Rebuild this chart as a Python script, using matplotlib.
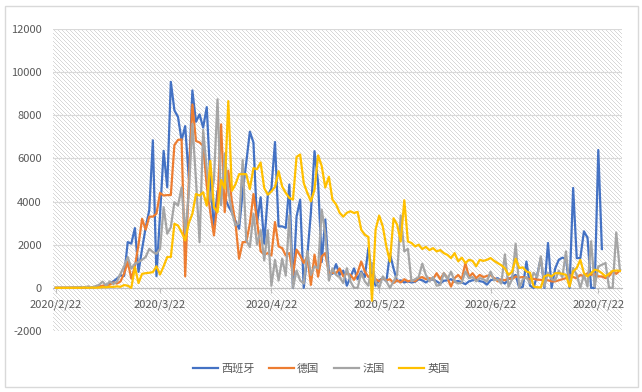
import numpy as np
import pandas as pd
import matplotlib
matplotlib.use('Agg')
import matplotlib.pyplot as plt
from matplotlib.patches import Rectangle

plt.rcParams['font.family'] = ['Noto Sans CJK SC', 'DejaVu Sans']
plt.rcParams['axes.unicode_minus'] = False

START_DATE = '2020-02-22'
SERIES_NAMES = ['西班牙', '德国', '法国', '英国']
TICK_DATES = ['2020-02-22', '2020-03-22', '2020-04-22',
              '2020-05-22', '2020-06-22', '2020-07-22']
TICK_LABELS = ['2020/2/22', '2020/3/22', '2020/4/22',
               '2020/5/22', '2020/6/22', '2020/7/22']
Y_TICKS = [-2000, 0, 2000, 4000, 6000, 8000, 10000, 12000]

# daily new cases (Spain stops a few days earlier)
spain = [
    0, 0, 0, 1, 4, 1, 2, 6, 13, 15,
    32, 45, 57, 37, 141, 200, 300, 430, 580, 550,
    2120, 2050, 2770, 740, 1800, 2800, 3600, 6840, 540, 3400,
    6350, 4660, 9550, 8230, 7920, 6840, 7500, 5090, 9150, 7700,
    8040, 7430, 8380, 5000, 2810, 4500, 4680, 4200, 3800, 3500,
    3100, 2740, 4450, 5800, 7240, 6740, 3000, 4200, 2050, 4300,
    4600, 6760, 2850, 2850, 2780, 4790, 0, 3300, 4090, 0,
    1500, 3500, 6340, 4870, 1200, 3170, 700, 650, 1100, 600,
    800, 100, 500, 900, 400, 760, 500, 1850, 600, 100,
    350, 450, 300, 1580, 900, 300, 350, 250, 300, 250,
    280, 400, 350, 250, 370, 390, 300, 200, 330, 350,
    400, 280, 320, 250, 170, 300, 350, 400, 310, 280,
    150, 350, 400, 450, 300, 200, 400, 500, 600, 0,
    50, 1220, 100, 0, 600, 1380, 0, 2080, 0, 900,
    1300, 1400, 1350, 0, 4630, 1380, 1380, 2620, 2330, 0,
    0, 6390, 1800,
]
germany = [
    0, 0, 0, 1, 4, 10, 5, 8, 20, 45,
    30, 40, 60, 100, 130, 150, 250, 200, 300, 660,
    1200, 430, 1000, 2000, 3200, 2700, 3300, 3300, 3440, 4400,
    4280, 4300, 4300, 6620, 6860, 6880, 530, 4900, 8500, 6810,
    6740, 6580, 4740, 3500, 2430, 4000, 7580, 3510, 5430, 4000,
    3000, 1350, 2120, 2120, 2970, 4350, 3120, 1700, 1540, 1610,
    1500, 3050, 1920, 1840, 1500, 1610, 600, 1770, 1500, 1150,
    1460, 140, 1540, 520, 1460, 1610, 680, 700, 680, 900,
    530, 680, 600, 370, 700, 1220, 760, 500, 600, 400,
    300, 450, 350, 400, 220, 350, 250, 400, 300, 350,
    300, 450, 500, 400, 450, 400, 680, 400, 680, 450,
    60, 450, 600, 400, 1150, 500, 680, 450, 600, 500,
    550, 600, 450, 300, 400, 350, 450, 400, 530, 480,
    500, 450, 400, 420, 380, 370, 370, 350, 300, 300,
    350, 400, 450, 600, 500, 450, 600, 530, 680, 600,
    650, 530, 530, 450, 550, 760, 650, 800,
]
france = [
    0, 0, 0, 2, 4, 20, 19, 43, 30, 61,
    21, 73, 138, 290, 100, 300, 180, 286, 660, 1000,
    1430, 890, 1120, 1200, 1300, 1430, 1810, 1660, 1580, 1810,
    3740, 2510, 2810, 3970, 3810, 4660, 2510, 4400, 7600, 5000,
    2120, 7320, 5500, 4000, 5000, 8740, 3830, 6230, 4500, 3500,
    2900, 3000, 5920, 2200, 1890, 3440, 2000, 2670, 1270, 2670,
    100, 1300, 340, 1350, 570, 3360, 0, 800, 340, 200,
    1700, 600, 1000, 900, 3630, 2510, 340, 900, 600, 500,
    220, 910, 300, 0, 0, 700, 300, 100, 1150, 300,
    0, 530, 300, 0, 300, 600, 3360, 1690, 1810, 300,
    400, 500, 1120, 600, 300, 500, 100, 140, 680, 400,
    750, 300, 200, 250, 760, 450, 500, 300, 450, 400,
    300, 750, 350, 400, 200, 1550, 50, 400, 2050, 0,
    400, 500, 200, 700, 500, 1460, 60, 700, 400, 350,
    800, 500, 1690, 60, 920, 600, 0, 600, 60, 2160,
    60, 990, 1070, 1150, 0, 0, 2570, 840,
]
uk = [
    0, 0, 0, 0, 0, 0, 0, 3, 12, 0,
    13, 4, 11, 34, 29, 48, 45, 67, 48, 130,
    100, 0, 960, 220, 650, 680, 700, 730, 1000, 620,
    1000, 1430, 1430, 2970, 2890, 2580, 2200, 3000, 3430, 4350,
    4280, 4430, 3810, 5890, 3740, 3500, 5000, 4600, 8660, 4500,
    4800, 5270, 5270, 5270, 4580, 5550, 5500, 5810, 4630, 4320,
    4470, 4680, 5410, 4700, 4400, 4170, 4090, 6070, 6180, 4860,
    4400, 4010, 4550, 6140, 5650, 4650, 5150, 4090, 3870, 3480,
    3300, 3480, 3550, 3470, 3520, 2700, 2460, 2360, -600, 2700,
    3350, 2850, 1920, 1220, 3230, 2930, 2150, 4060, 2150, 2080,
    1920, 2000, 1800, 1900, 1750, 1840, 1690, 1750, 1610, 1530,
    1380, 1610, 1230, 1400, 1150, 1300, 1250, 1000, 1300, 1250,
    1300, 1380, 1250, 1150, 1050, 900, 600, 750, 1350, 920,
    950, 760, 700, 60, 30, 20, 530, 600, 530, 680,
    680, 650, 600, 60, 760, 920, 1300, 680, 530, 680,
    840, 800, 680, 530, 650, 790, 800, 790,
]

COLORS = ['#4472C4', '#ED7D31', '#A5A5A5', '#FFC000']
TEXT_COLOR = '#595959'
GRID_COLOR = '#D9D9D9'

# plot area in pixels (left, bottom, width, height) of the 642x392 figure
PLOT_BOX = (53, 61, 569, 302)
HATCH_STEP = 4


def hatch_pattern(w, h, step, gray=216):
    # one-pixel "\" stripes, like Excel's light downward diagonal fill
    rows, cols = np.mgrid[0:h, 0:w]
    img = np.full((h, w, 3), 255, dtype=np.uint8)
    img[(cols - rows) % step == 0] = gray
    return img


def draw_chart():
    fig = plt.figure(figsize=(6.42, 3.92), dpi=100)
    left, bottom, width, height = PLOT_BOX
    ax = fig.add_axes([left / 642, bottom / 392, width / 642, height / 392])
    ax.set_facecolor('none')
    fig.figimage(hatch_pattern(width, height, HATCH_STEP), xo=left, yo=bottom,
                 zorder=-1)

    dates = pd.date_range(START_DATE, periods=len(germany), freq='D')
    for values, name, color in zip([spain, germany, france, uk], SERIES_NAMES, COLORS):
        ax.plot(dates[:len(values)], values, color=color, lw=1.6, label=name,
                solid_joinstyle='round', zorder=3)

    ax.set_ylim(-2000, 12000)
    ax.set_yticks(Y_TICKS)
    ax.yaxis.grid(True, color=GRID_COLOR, lw=0.8)
    ax.set_axisbelow(True)

    start = pd.Timestamp(START_DATE)
    ax.set_xlim(start - pd.Timedelta(days=0.8), start + pd.Timedelta(days=157.6))
    ax.set_xticks(pd.to_datetime(TICK_DATES))
    ax.set_xticklabels(TICK_LABELS)

    for side in ['top', 'right', 'left']:
        ax.spines[side].set_visible(False)
    ax.spines['bottom'].set_position(('data', 0))
    ax.spines['bottom'].set_color('#BFBFBF')
    ax.spines['bottom'].set_linewidth(0.8)

    ax.tick_params(axis='x', direction='out', length=3.5, color='#BFBFBF',
                   labelsize=8, labelcolor=TEXT_COLOR, pad=5)
    ax.tick_params(axis='y', length=0, pad=8, labelsize=8, labelcolor=TEXT_COLOR)

    leg = fig.legend(loc='center', bbox_to_anchor=(0.5, 1 - 369 / 392), ncol=4,
                     frameon=False, fontsize=8, handlelength=2.3,
                     handletextpad=0.25, columnspacing=1.3)
    for text in leg.get_texts():
        text.set_color(TEXT_COLOR)

    fig.add_artist(Rectangle((5 / 642, 5 / 392), 633 / 642, 381 / 392,
                             transform=fig.transFigure, fill=False,
                             edgecolor=GRID_COLOR, lw=1))

    fig.savefig('out.png', dpi=100)
    plt.close(fig)


if __name__ == "__main__":
    draw_chart()
